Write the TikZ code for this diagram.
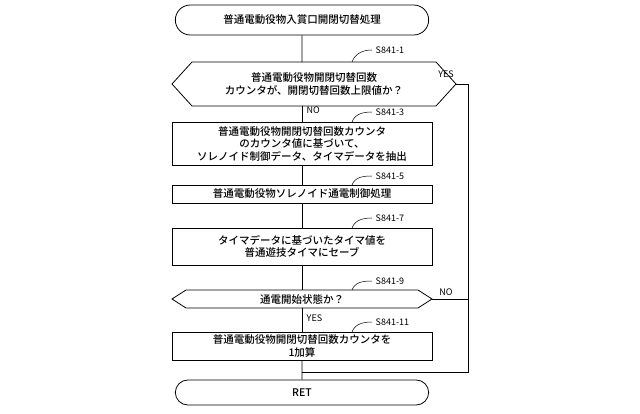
\documentclass[tikz,border=0pt]{standalone}
\usepackage{fontspec}
\setmainfont{Noto Sans CJK JP}[BoldFont={Noto Sans CJK JP Medium}]
\usetikzlibrary{shapes.misc}
\begin{document}
\begin{tikzpicture}[x=1pt,y=-1pt,font=\fontsize{10.5}{12.5}\selectfont\bfseries,line width=0.8pt,
  proc/.style={draw,minimum width=260pt,align=center,inner sep=1pt},
  term/.style={draw,rounded rectangle,minimum width=260pt},
  lbl/.style={font=\fontsize{9}{10}\selectfont,anchor=west},
  lead/.style={line width=0.5pt}]
\useasboundingbox (0,0) rectangle (640,414);
\node[term,minimum height=30pt] (start) at (302,20) {普通電動役物入賞口開閉切替処理};
\coordinate (d1l) at (172,84); \coordinate (d1r) at (456,84);
\draw (d1l) -- (192,62) -- (436,62) -- (d1r) -- (436,106) -- (192,106) -- cycle;
\node[align=center] (d1) at (314,84) {普通電動役物開閉切替回数\\カウンタが、開閉切替回数上限値か？};
\node[proc,minimum height=43pt] (b3) at (302,143.5) {普通電動役物開閉切替回数カウンタ\\のカウンタ値に基づいて、\\ソレノイド制御データ、タイマデータを抽出};
\node[proc,minimum height=18pt] (b5) at (302,194) {普通電動役物ソレノイド通電制御処理};
\node[proc,minimum height=37pt] (b7) at (302,246.5) {タイマデータに基づいたタイマ値を\\普通遊技タイマにセーブ};
\coordinate (d9l) at (172,299); \coordinate (d9r) at (432,299);
\draw (d9l) -- (186,290) -- (418,290) -- (d9r) -- (418,308) -- (186,308) -- cycle;
\node (d9) at (302,299) {通電開始状態か？};
\node[proc,minimum height=28pt] (b11) at (302,346) {普通電動役物開閉切替回数カウンタを\\1加算};
\node[term,minimum height=25pt] (ret) at (302,392.5) {RET};
\coordinate (c1) at (302,62); \coordinate (c1b) at (302,106);
\coordinate (c9) at (302,290); \coordinate (c9b) at (302,308);
\draw (start) -- (c1);
\draw (c1b) -- (b3.north) node[pos=0.3,right=1pt,font=\fontsize{9}{10}\selectfont] {NO};
\draw (b3) -- (b5); \draw (b5) -- (b7); \draw (b7.south) -- (c9);
\draw (c9b) -- (b11.north) node[pos=0.45,right=1pt,font=\fontsize{9}{10}\selectfont] {YES};
\draw (b11) -- (ret);
\coordinate (rr) at (468,372); \coordinate (rc) at (302,372);
\draw (d1r) -- (468,84) -- (rr) -- (rc);
\node[font=\fontsize{9}{10}\selectfont] (yes1) at (446,74) {YES};
\draw (d9r) -- (468,299);
\node[font=\fontsize{9}{10}\selectfont] (no9) at (446,292) {NO};
\foreach \n/\y/\t in {a/50/S841-1,b/112/S841-3,c/176/S841-5,d/218/S841-7,e/281/S841-9,f/322/S841-11}{
  \node[lbl] (l\n) at (372,\y) {\t};
}
\draw[lead] (la.west) to[out=180,in=70] (352,62);
\draw[lead] (lb.west) to[out=180,in=70] (352,122);
\draw[lead] (lc.west) to[out=180,in=70] (352,185);
\draw[lead] (ld.west) to[out=180,in=70] (352,228);
\draw[lead] (le.west) to[out=180,in=70] (352,290);
\draw[lead] (lf.west) to[out=180,in=70] (352,332);
\end{tikzpicture}
\end{document}
